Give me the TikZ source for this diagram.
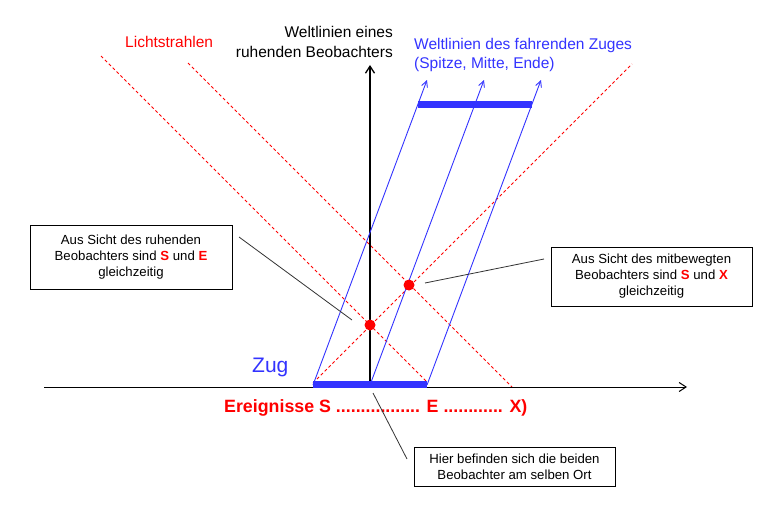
\documentclass[tikz,border=0pt]{standalone}
\usepackage{fontspec}
\setmainfont{Liberation Sans}
\usetikzlibrary{arrows.meta}
\definecolor{zugblau}{RGB}{51,51,255}
\definecolor{lichtrot}{RGB}{255,0,0}
\tikzset{
  light/.style={draw=lichtrot, line width=1pt, dash pattern=on 3pt off 2.5pt},
  worldline/.style={draw=zugblau, line width=0.9pt, -{Straight Barb[length=6pt,width=6pt]}},
  axis/.style={draw=black, line width=1pt, -{Straight Barb[length=7pt,width=9pt]}},
  callout/.style={draw=black!80, line width=0.8pt},
  infobox/.style={draw=black, line width=0.9pt, inner sep=0pt, align=center,
    font=\fontsize{13.2}{16}\selectfont},
  event/.style={circle, fill=lichtrot, inner sep=0pt, minimum size=11pt},
  bar/.style={draw=zugblau, line width=7pt},
}
\newcommand{\ev}[1]{\textcolor{lichtrot}{\textbf{#1}}}
\begin{document}
\begin{tikzpicture}[x=1pt,y=-1pt]
\useasboundingbox (0,0) rectangle (776,511);
% coordinates
\coordinate (xs) at (44,387);
\coordinate (xe) at (687,387);
\coordinate (vs) at (370,387);
\coordinate (ve) at (370,65);
\coordinate (t1) at (313,385);
\coordinate (t2) at (370,385);
\coordinate (t3) at (427,385);
\coordinate (u1) at (427,80);
\coordinate (u2) at (484,80);
\coordinate (u3) at (541,80);
\coordinate (b1) at (313,384);
\coordinate (b2) at (427,384);
\coordinate (o1) at (418,104);
\coordinate (o2) at (532,104);
\coordinate (la1) at (101,56);
\coordinate (la2) at (427,382);
\coordinate (lb1) at (188,63);
\coordinate (lb2) at (512,387);
\coordinate (lc1) at (313,383);
\coordinate (lc2) at (632,64);
% light rays
\draw[light] (la1) -- (la2);
\draw[light] (lb1) -- (lb2);
\draw[light] (lc1) -- (lc2);
% axes
\draw[axis] (xs) -- (xe);
\draw[axis, line width=1.3pt] (vs) -- (ve);
% train world lines
\draw[worldline] (t1) -- (u1);
\draw[worldline] (t2) -- (u2);
\draw[worldline] (t3) -- (u3);
% train bars
\draw[bar] (b1) -- (b2);
\draw[bar] (o1) -- (o2);
% events
\node[event] (eS) at (370,325) {};
\node[event] (eX) at (409,285) {};
% labels
\node[anchor=east, align=right, font=\fontsize{15.5}{19.5}\selectfont, inner sep=0pt] (lruh) at (393,42)
  {Weltlinien eines\hspace{4.3pt}\\ruhenden Beobachters};
\node[anchor=west, text=lichtrot, font=\fontsize{15.5}{19.5}\selectfont, inner sep=0pt] (llicht) at (125,42) {Lichtstrahlen};
\node[anchor=west, align=left, text=zugblau, font=\fontsize{15.5}{19.5}\selectfont, inner sep=0pt] (lzug) at (414,55)
  {Weltlinien des fahrenden Zuges\\(Spitze, Mitte, Ende)};
\node[anchor=west, text=zugblau, font=\fontsize{21}{25}\selectfont, inner sep=0pt] (zug) at (252,367) {Zug};
\node[anchor=west, text=lichtrot, font=\fontsize{17.8}{20}\selectfont\bfseries, inner sep=0pt] (ereig) at (224,408)
  {Ereignisse S ................. E ............ X)};
% boxes
\node[infobox, minimum width=202pt, minimum height=64pt] (box1) at (131,257)
  {Aus Sicht des ruhenden\\Beobachters sind \ev{S} und \ev{E}\\gleichzeitig};
\node[infobox, minimum width=201pt, minimum height=59pt] (box2) at (651.5,276.5)
  {Aus Sicht des mitbewegten\\Beobachters sind \ev{S} und \ev{X}\\gleichzeitig};
\node[infobox, minimum width=201pt, minimum height=39pt] (box3) at (514.5,466.5)
  {Hier befinden sich die beiden\\Beobachter am selben Ort};
% callouts
\coordinate (c1a) at (239,237);
\coordinate (c1b) at (352,320);
\coordinate (c2a) at (544,259);
\coordinate (c2b) at (425,283);
\coordinate (c3a) at (373,393);
\coordinate (c3b) at (407,459);
\draw[callout] (c1a) -- (c1b);
\draw[callout] (c2a) -- (c2b);
\draw[callout] (c3a) -- (c3b);
\end{tikzpicture}
\end{document}
